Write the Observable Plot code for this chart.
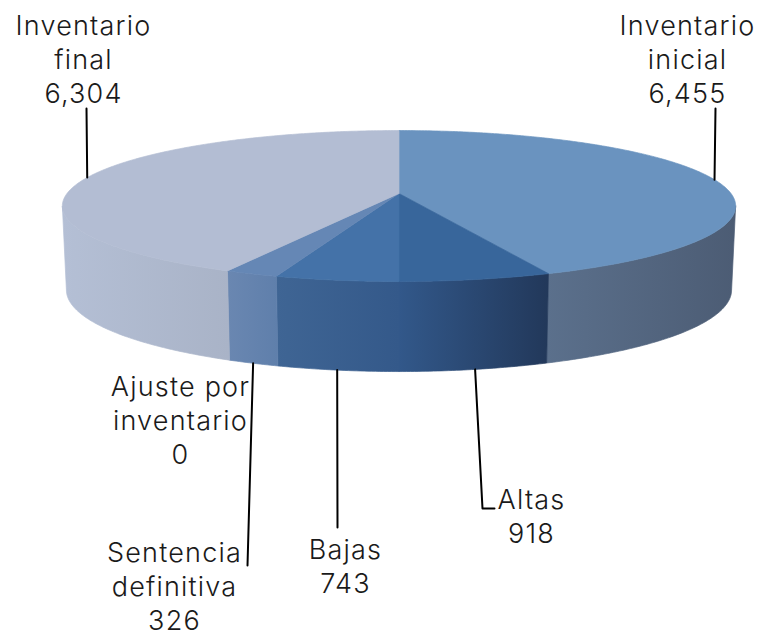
<!DOCTYPE html>
<html>
<head>
<meta charset="utf-8">
<style>html,body{margin:0;padding:0;background:#fff}</style>
<script src="https://cdn.jsdelivr.net/npm/d3@7"></script>
<script src="https://cdn.jsdelivr.net/npm/@observablehq/plot@0.6"></script>
</head>
<body>
<div id="chart"></div>
<script>
// Data, clockwise from 12 o'clock
const categories = ["Inventario inicial", "Altas", "Bajas", "Sentencia definitiva", "Ajuste por inventario", "Inventario final"];
const values = [6455, 918, 743, 326, 0, 6304];
const labelLines = [["Inventario", "inicial"], ["Altas"], ["Bajas"], ["Sentencia", "definitiva"], ["Ajuste por", "inventario"], ["Inventario", "final"]];

// Colours
const topColors = ["#6a93bf", "#38669b", "#4472a8", "#6587b5", "#6587b5", "#b3bdd3"];
const wallColors = [["#5b708c", "#4c5c74"], ["#32588a", "#22385a"], ["#3f6594", "#34598a"], ["#6a87b1", "#5f7fab"], ["#6a87b1", "#5f7fab"], ["#b4bfd5", "#a9b3c7"]];

// Layout of labels and leader lines (page pixels)
const labelPos = [[687, 24], [531, 498], [345, 548], [174, 551], [180, 385], [83, 24]];
const leaderEnds = [[[715, 108]], [[482, 508], [494, 508]], [[337, 527]], [[247, 565]], null, [[86, 108]]];
const leaderOnTop = [true, false, false, false, false, true];
const lineStep = 34, fontSize = 27;

// Perspective projection of the disc
const k = 0.1656;
const topDisc = {x0: 398.5, y0: 193, a: 332, b: 73.4};
const botDisc = {x0: 398.5, y0: 276, a: 328, b: 79.3};
function project(t, d) {
  const u = Math.sin(t), v = -Math.cos(t), s = 1 / (1 - k * v);
  return {x: d.x0 + d.a * u * s, y: d.y0 + d.b * v * s};
}
const total = d3.sum(values);
let acc = 0;
const slices = values.map((v, i) => {
  const start = acc / total * 2 * Math.PI;
  acc += v;
  return {i, start, end: acc / total * 2 * Math.PI, mid: (start + acc / total * 2 * Math.PI) / 2};
});
const arcPts = (a, b, d) => {
  const n = Math.max(2, Math.ceil((b - a) / 0.01));
  return d3.range(n + 1).map(j => project(a + (b - a) * j / n, d));
};
const visA = Math.acos(-k), visB = 2 * Math.PI - visA;
const marks = [];
const gradients = [];

// Walls
slices.forEach(s => {
  const a = Math.max(s.start, visA), b = Math.min(s.end, visB);
  if (b <= a) return;
  const pts = [...arcPts(a, b, topDisc), ...arcPts(a, b, botDisc).reverse()];
  pts.push(pts[0]);
  const id = "wall" + s.i;
  gradients.push({id, x1: d3.min(pts, p => p.x), x2: d3.max(pts, p => p.x), c: wallColors[s.i]});
  marks.push(Plot.line(pts, {x: "x", y: "y", fill: `url(#${id})`, stroke: `url(#${id})`, strokeWidth: 0.7}));
});
// Top faces
slices.forEach(s => {
  if (s.end <= s.start) return;
  const pts = [{x: topDisc.x0, y: topDisc.y0}, ...arcPts(s.start, s.end, topDisc), {x: topDisc.x0, y: topDisc.y0}];
  marks.push(Plot.line(pts, {x: "x", y: "y", fill: topColors[s.i], stroke: topColors[s.i], strokeWidth: 0.7}));
});
// Leaders
slices.forEach(s => {
  if (!leaderEnds[s.i]) return;
  const from = project(s.mid, leaderOnTop[s.i] ? topDisc : botDisc);
  const pts = [from, ...leaderEnds[s.i].map(([x, y]) => ({x, y}))];
  marks.push(Plot.line(pts, {x: "x", y: "y", stroke: "#000", strokeWidth: 2, curve: "linear"}));
});
// Labels
const labelRows = categories.map((c, i) => ({
  text: [...labelLines[i], d3.format(",")(values[i])].join("\n"),
  x: labelPos[i][0],
  y: labelPos[i][1] + lineStep * labelLines[i].length / 2
}));
marks.push(Plot.text(labelRows, {
  x: "x", y: "y", text: "text", fontSize, lineHeight: lineStep / fontSize,
  fill: "#1a1a1a", textAnchor: "middle", lineAnchor: "middle", fontWeight: 300,
  fontFamily: "Inter, Lato, sans-serif"
}));

const chart = Plot.plot({
  width: 760, height: 636, margin: 0,
  x: {type: "linear", domain: [0, 760], range: [0, 760], axis: null},
  y: {type: "linear", domain: [0, 636], range: [0, 636], axis: null},
  style: {background: "#fff", letterSpacing: "1.2px"},
  marks
});
const defs = d3.select(chart).insert("defs", ":first-child");
gradients.forEach(g => {
  const lg = defs.append("linearGradient").attr("id", g.id).attr("gradientUnits", "userSpaceOnUse")
    .attr("x1", g.x1).attr("x2", g.x2).attr("y1", 0).attr("y2", 0);
  lg.append("stop").attr("offset", 0).attr("stop-color", g.c[0]);
  lg.append("stop").attr("offset", 1).attr("stop-color", g.c[1]);
});
document.getElementById("chart").append(chart);
</script>
</body>
</html>
